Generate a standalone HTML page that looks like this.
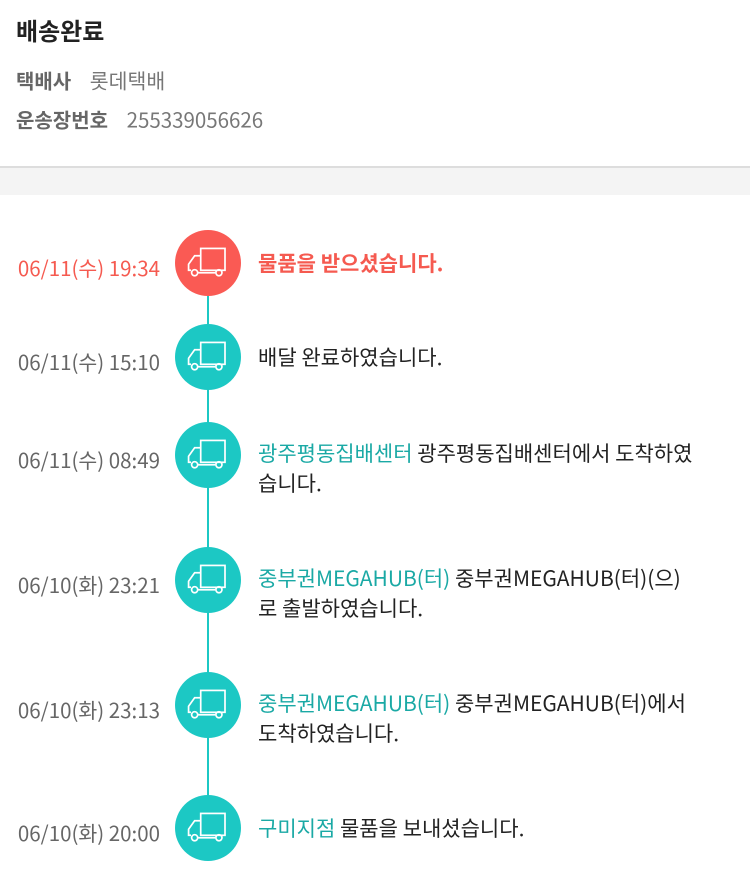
<!DOCTYPE html>
<html><head><meta charset="utf-8"><style>
body{margin:0;width:750px;height:872px;background:#fff;font-family:"Noto Sans CJK KR","Liberation Sans",sans-serif;position:relative;overflow:hidden}
.a{position:absolute;white-space:nowrap}
.t{font-size:24px;font-weight:bold;color:#222;left:16px;top:30px;transform:translateY(-50%);line-height:30px}
.l{font-size:20.5px;color:#777;left:16px;line-height:26px;transform:translateY(-50%)}
.l b{color:#666;margin-right:14px;font-size:20px}
.band{position:absolute;left:0;top:166px;width:750px;height:27px;background:#f4f4f4;border-top:2px solid #ddd}
.line{position:absolute;left:207px;top:263px;width:2px;height:565px;background:#1cc8c4}
.d{font-size:20.5px;color:#666;right:590px;transform:translateY(-50%);line-height:26px}
.c{position:absolute;left:175px;width:66px;height:66px;border-radius:50%;background:#1cc8c4;margin-top:-33px}
.c svg{position:absolute;left:12px;top:16px}
.x{font-size:21px;color:#222;left:258px;line-height:30px;transform:translateY(-15px)}
.g{color:#1aa9a5}
</style></head><body>
<div class="a t">배송완료</div>
<div class="a l" style="top:80px"><b>택배사</b> 롯데택배</div>
<div class="a l" style="top:119px"><b>운송장번호</b> 255339056626</div>
<div class="band"></div>
<div class="line"></div>

<div class="a d" style="top:267px;color:#f55a50">06/11(수) 19:34</div>
<div class="c" style="top:263px;background:#fa5a54"><svg width="42" height="34" viewBox="0 0 34 28" fill="none" stroke="#fff" stroke-width="1.4"><rect x="11" y="2" width="20" height="18"/><path d="M11 8H6L1 15v5h2"/><circle cx="6" cy="22" r="2.5"/><circle cx="26" cy="22" r="2.5"/><path d="M9 22h14"/></svg></div>
<div class="a x" style="top:263px;color:#f55a50;font-weight:bold">물품을 받으셨습니다.</div>

<div class="a d" style="top:361px">06/11(수) 15:10</div>
<div class="c" style="top:357px"><svg width="42" height="34" viewBox="0 0 34 28" fill="none" stroke="#fff" stroke-width="1.4"><rect x="11" y="2" width="20" height="18"/><path d="M11 8H6L1 15v5h2"/><circle cx="6" cy="22" r="2.5"/><circle cx="26" cy="22" r="2.5"/><path d="M9 22h14"/></svg></div>
<div class="a x" style="top:357px">배달 완료하였습니다.</div>

<div class="a d" style="top:459px">06/11(수) 08:49</div>
<div class="c" style="top:455px"><svg width="42" height="34" viewBox="0 0 34 28" fill="none" stroke="#fff" stroke-width="1.4"><rect x="11" y="2" width="20" height="18"/><path d="M11 8H6L1 15v5h2"/><circle cx="6" cy="22" r="2.5"/><circle cx="26" cy="22" r="2.5"/><path d="M9 22h14"/></svg></div>
<div class="a x" style="top:453px"><span class="g">광주평동집배센터</span> 광주평동집배센터에서 도착하였<br>습니다.</div>

<div class="a d" style="top:584px">06/10(화) 23:21</div>
<div class="c" style="top:580px"><svg width="42" height="34" viewBox="0 0 34 28" fill="none" stroke="#fff" stroke-width="1.4"><rect x="11" y="2" width="20" height="18"/><path d="M11 8H6L1 15v5h2"/><circle cx="6" cy="22" r="2.5"/><circle cx="26" cy="22" r="2.5"/><path d="M9 22h14"/></svg></div>
<div class="a x" style="top:578px"><span class="g">중부권MEGAHUB(터)</span> 중부권MEGAHUB(터)(으)<br>로 출발하였습니다.</div>

<div class="a d" style="top:709px">06/10(화) 23:13</div>
<div class="c" style="top:705px"><svg width="42" height="34" viewBox="0 0 34 28" fill="none" stroke="#fff" stroke-width="1.4"><rect x="11" y="2" width="20" height="18"/><path d="M11 8H6L1 15v5h2"/><circle cx="6" cy="22" r="2.5"/><circle cx="26" cy="22" r="2.5"/><path d="M9 22h14"/></svg></div>
<div class="a x" style="top:703px"><span class="g">중부권MEGAHUB(터)</span> 중부권MEGAHUB(터)에서<br>도착하였습니다.</div>

<div class="a d" style="top:832px">06/10(화) 20:00</div>
<div class="c" style="top:828px"><svg width="42" height="34" viewBox="0 0 34 28" fill="none" stroke="#fff" stroke-width="1.4"><rect x="11" y="2" width="20" height="18"/><path d="M11 8H6L1 15v5h2"/><circle cx="6" cy="22" r="2.5"/><circle cx="26" cy="22" r="2.5"/><path d="M9 22h14"/></svg></div>
<div class="a x" style="top:828px"><span class="g">구미지점</span> 물품을 보내셨습니다.</div>
</body></html>
